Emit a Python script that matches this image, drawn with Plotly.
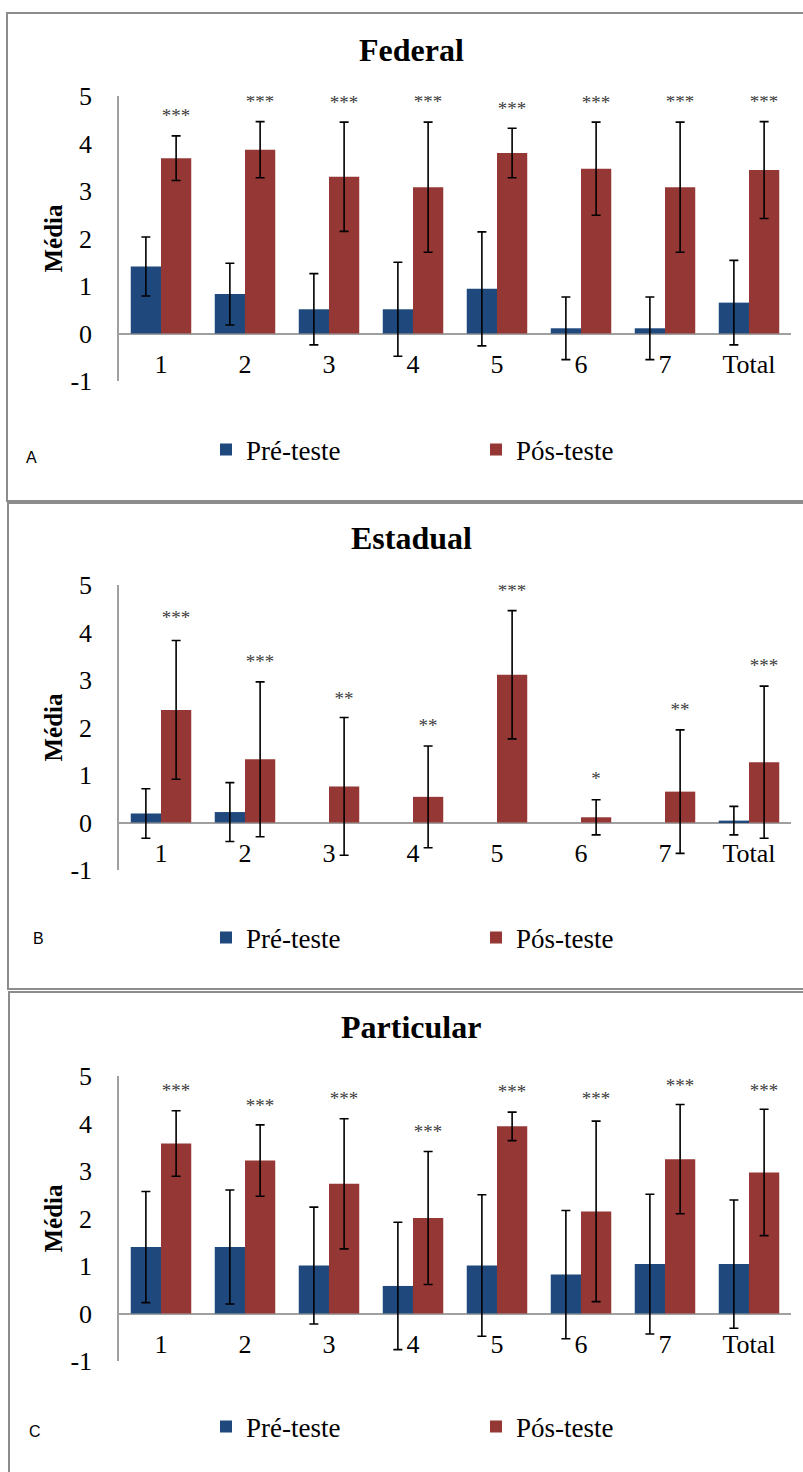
import plotly.graph_objects as go

# Categorias do eixo x
categorias = ["1", "2", "3", "4", "5", "6", "7", "Total"]
ticks_y = [-1, 0, 1, 2, 3, 4, 5]
rotulos_y = ["-1", "0", "1", "2", "3", "4", "5"]

# Federal: médias e desvios-padrão
pre_federal = [1.41, 0.83, 0.51, 0.51, 0.94, 0.11, 0.11, 0.65]
pre_federal_dp = [0.62, 0.65, 0.75, 0.99, 1.20, 0.66, 0.66, 0.89]
pos_federal = [3.69, 3.87, 3.30, 3.08, 3.80, 3.47, 3.08, 3.44]
pos_federal_dp = [0.47, 0.59, 1.15, 1.37, 0.52, 0.98, 1.37, 1.02]
sig_federal = ["***", "***", "***", "***", "***", "***", "***", "***"]
sig_federal_y = [4.56, 4.85, 4.82, 4.85, 4.71, 4.82, 4.85, 4.85]

# Estadual (sem barra de pré-teste nas questões 3 a 7)
pre_estadual = [0.19, 0.22, None, None, None, None, None, 0.04]
pre_estadual_dp = [0.52, 0.62, None, None, None, None, None, 0.30]
pos_estadual = [2.37, 1.33, 0.76, 0.54, 3.11, 0.11, 0.65, 1.27]
pos_estadual_dp = [1.46, 1.63, 1.45, 1.07, 1.35, 0.37, 1.30, 1.60]
sig_estadual = ["***", "***", "**", "**", "***", "*", "**", "***"]
sig_estadual_y = [4.27, 3.35, 2.58, 2.01, 4.84, 0.88, 2.34, 3.27]

# Particular
pre_particular = [1.40, 1.40, 1.01, 0.58, 1.01, 0.82, 1.04, 1.04]
pre_particular_dp = [1.17, 1.20, 1.23, 1.34, 1.49, 1.35, 1.47, 1.35]
pos_particular = [3.58, 3.22, 2.73, 2.01, 3.94, 2.15, 3.25, 2.97]
pos_particular_dp = [0.69, 0.75, 1.37, 1.40, 0.30, 1.90, 1.15, 1.33]
sig_particular = ["***"] * 8
sig_particular_y = [4.66, 4.35, 4.49, 3.80, 4.63, 4.49, 4.77, 4.66]

W, H = 803, 1472
AZUL = "#1F497D"
VERMELHO = "#953735"
CINZA = "#A0A0A0"
SERIF = "Liberation Serif"
BW = 0.36  # largura de cada barra (unidades do eixo x)


def fx(px):
    return px / W


def fy(py):
    return 1 - py / H


paineis = [
    dict(titulo="Federal", letra="A",
         pre=pre_federal, pre_dp=pre_federal_dp, pos=pos_federal, pos_dp=pos_federal_dp,
         sig=sig_federal, sig_y=sig_federal_y),
    dict(titulo="Estadual", letra="B",
         pre=pre_estadual, pre_dp=pre_estadual_dp, pos=pos_estadual, pos_dp=pos_estadual_dp,
         sig=sig_estadual, sig_y=sig_estadual_y),
    dict(titulo="Particular", letra="C",
         pre=pre_particular, pre_dp=pre_particular_dp, pos=pos_particular, pos_dp=pos_particular_dp,
         sig=sig_particular, sig_y=sig_particular_y),
]

# Geometria de cada painel (pixels a partir do topo)
geo = [
    dict(topo=96, base=381, titulo=50, legenda=450, letra=(31, 457), moldura=(7, 13, 501)),
    dict(topo=585, base=870, titulo=538, legenda=938, letra=(38, 938), moldura=(8, 503, 989)),
    dict(topo=1076, base=1361, titulo=1027, legenda=1427, letra=(35, 1431), moldura=(9, 992, 1490)),
]

idx = list(range(len(categorias)))
fig = go.Figure()
layout = dict(width=W, height=H, margin=dict(l=0, r=0, t=0, b=0, autoexpand=False),
              plot_bgcolor="white", paper_bgcolor="white", showlegend=True,
              annotations=[], shapes=[])

for k, (p, g) in enumerate(zip(paineis, geo)):
    sfx = "" if k == 0 else str(k + 1)
    xa, ya, leg = "x" + sfx, "y" + sfx, "legend" + sfx
    erro = dict(type="data", color="black", thickness=1.6, width=4.5)
    fig.add_trace(go.Bar(x=idx, y=p["pre"], offset=-BW, width=BW, name="Pré-teste",
                         marker=dict(color=AZUL, line=dict(width=0)),
                         error_y=dict(array=p["pre_dp"], **erro),
                         xaxis=xa, yaxis=ya, legend=leg))
    fig.add_trace(go.Bar(x=idx, y=p["pos"], offset=0, width=BW, name="Pós-teste",
                         marker=dict(color=VERMELHO, line=dict(width=0)),
                         error_y=dict(array=p["pos_dp"], **erro),
                         xaxis=xa, yaxis=ya, legend=leg))
    fig.add_trace(go.Scatter(x=[i + BW / 2 for i in idx], y=p["sig_y"], text=p["sig"],
                             mode="text", textposition="middle center",
                             textfont=dict(family=SERIF, size=19, color="#404040"),
                             showlegend=False, hoverinfo="skip", xaxis=xa, yaxis=ya))

    layout["xaxis" + sfx] = dict(domain=[fx(119), fx(791)], range=[-0.5, 7.5],
                                 tickmode="array", tickvals=idx, ticktext=categorias,
                                 showline=False, showgrid=False, zeroline=False, ticks="",
                                 anchor="free", position=fy(g["base"] - 35),
                                 tickfont=dict(family=SERIF, size=26, color="black"))
    layout["yaxis" + sfx] = dict(domain=[fy(g["base"]), fy(g["topo"])], range=[-1, 5],
                                 tickmode="array", tickvals=ticks_y, ticktext=rotulos_y,
                                 showgrid=False, ticks="",
                                 showline=True, linecolor=CINZA, linewidth=1.5,
                                 zeroline=True, zerolinecolor=CINZA, zerolinewidth=2,
                                 anchor="x" + sfx, ticklabelstandoff=20,
                                 tickfont=dict(family=SERIF, size=26, color="black"))
    layout["legend" + sfx] = dict(x=fx(206), y=fy(g["legenda"]), xanchor="left", yanchor="middle",
                                  orientation="h", entrywidth=225, entrywidthmode="pixels",
                                  bgcolor="rgba(0,0,0,0)", borderwidth=0,
                                  font=dict(family=SERIF, size=27, color="black"))

    layout["annotations"] += [
        dict(text=p["titulo"], x=fx(411), y=fy(g["titulo"]), xref="paper", yref="paper",
             showarrow=False, xanchor="center", yanchor="middle",
             font=dict(family=SERIF, size=32, color="black", weight="bold")),
        dict(text="Média", x=fx(53), y=fy((g["topo"] + g["base"]) / 2), xref="paper", yref="paper",
             showarrow=False, textangle=-90, xanchor="center", yanchor="middle",
             font=dict(family=SERIF, size=25, color="black", weight="bold")),
        dict(text=p["letra"], x=fx(g["letra"][0]), y=fy(g["letra"][1]), xref="paper", yref="paper",
             showarrow=False, xanchor="center", yanchor="middle",
             font=dict(family="Liberation Sans", size=16, color="black")),
    ]
    x0, t, b = g["moldura"]
    layout["shapes"].append(dict(type="rect", xref="paper", yref="paper",
                                 x0=fx(x0), x1=fx(W + 10), y0=fy(b), y1=fy(t),
                                 line=dict(color="#8C8C8C", width=2), layer="below"))

fig.update_layout(**layout)
fig.write_html("out.html")
